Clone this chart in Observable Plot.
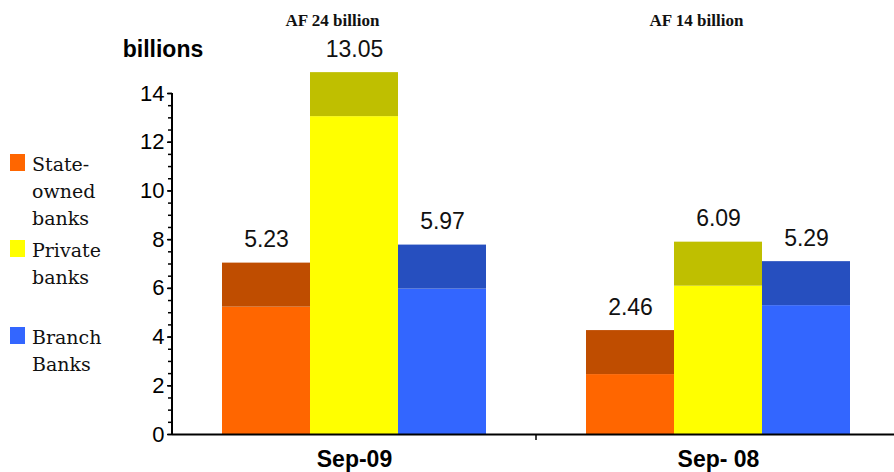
<!DOCTYPE html>
<html>
<head>
<meta charset="utf-8">
<script src="https://cdn.jsdelivr.net/npm/d3@7"></script>
<script src="https://cdn.jsdelivr.net/npm/@observablehq/plot@0.6"></script>
<style>
  html, body { margin: 0; padding: 0; background: #fff; overflow: hidden; }
  #wrap { position: relative; width: 894px; height: 472px; overflow: hidden; }
  #chart { position: absolute; left: 0; top: 0; }
  #ylabel { position: absolute; left: 163px; top: 38px; transform: translateX(-50%);
    font: bold 23px "Liberation Sans", Arial, sans-serif; line-height: 23px; white-space: nowrap; color: #000; }
  .item { position: absolute; left: 10px; font-family: "DejaVu Serif", serif; font-size: 19px; line-height: 27px; color: #111; }
  .sw { position: absolute; left: 0; top: 3px; width: 15px; height: 17px; }
  .lbl { position: absolute; left: 22px; top: 0; white-space: nowrap; }
</style>
</head>
<body>
<div id="wrap">
  <div id="chart"></div>
  <div id="ylabel">billions</div>
  <div id="legend"></div>
</div>
<script>
// ---- data ----
const dates = ["Sep-09", "Sep- 08"];
const types = ["State-owned banks", "Private banks", "Branch Banks"];
const legendLines = [["State-", "owned", "banks"], ["Private", "banks"], ["Branch", "Banks"]];
const valuesSep09 = [5.23, 13.05, 5.97];
const valuesSep08 = [2.46, 6.09, 5.29];
const groupTitles = ["AF 24 billion", "AF 14 billion"];
const frontColors = ["#FF6600", "#FFFF00", "#3366FF"];
const topColors = ["#BF4D00", "#BFBF00", "#264FBF"];
const edgeColors = ["#BF4D00", "#8A8A00", "#1E3C9A"];
const majorTicks = [0, 2, 4, 6, 8, 10, 12, 14];
const minorTicks = d3.range(0, 14.01, 0.5);

const series = [valuesSep09, valuesSep08];
const data = dates.flatMap((date, i) => types.map((type, j) => ({date, type, value: series[i][j]})));
const titles = dates.map((date, i) => ({date, title: groupTitles[i]}));

const sans = "'Liberation Sans', Arial, sans-serif";
const serif = "'Liberation Serif', 'Times New Roman', serif";

const chart = Plot.plot({
  width: 900,
  height: 472,
  marginLeft: 171,
  marginRight: 0,
  marginTop: 93,
  marginBottom: 38,
  style: {fontFamily: sans, color: "#000", background: "transparent", overflow: "visible", maxWidth: "none"},
  fx: {domain: dates, padding: 0, label: null, axis: null},
  x: {domain: types, paddingInner: 0, paddingOuter: 0.55, axis: null},
  y: {domain: [0, 14], axis: null},
  marks: [
    // front face
    Plot.barY(data, {fx: "date", x: "type", y: "value",
      fill: d => frontColors[types.indexOf(d.type)]}),
    // top face (darker), drawn as a band above each value
    Plot.barY(data, {fx: "date", x: "type", y1: "value", y2: "value", insetTop: -44,
      fill: d => topColors[types.indexOf(d.type)]}),
    // thin dark side edge of the private and branch bars
    Plot.barY(data.filter(d => d.type !== types[0]), {fx: "date", x: "type", y: "value", insetTop: -44,
      insetLeft: 88, fill: d => edgeColors[types.indexOf(d.type)]}),
    Plot.ruleY([0], {stroke: "#000", strokeWidth: 2}),
    Plot.text(data, {fx: "date", x: "type", y: "value", text: d => d.value.toFixed(2),
      dy: -60, lineAnchor: "bottom", fontSize: 23, fontFamily: sans, fill: "#111"}),
    Plot.text(titles, {fx: "date", text: "title", frameAnchor: "top", dy: -68, dx: -22,
      lineAnchor: "bottom", fontSize: 17, fontWeight: "bold", fontFamily: serif, fill: "#111"}),
    Plot.axisY({ticks: minorTicks, tickSize: 4, tickFormat: () => "", label: null, strokeWidth: 1.5}),
    Plot.axisY({ticks: majorTicks, tickSize: 5, tickPadding: 3, label: null, fontSize: 22,
      fontFamily: sans, strokeWidth: 1.5}),
    Plot.axisFx({anchor: "bottom", tickSize: 0, tickPadding: 16, label: null, fontSize: 23,
      fontWeight: "bold", fontFamily: sans})
  ]
});
document.getElementById("chart").appendChild(chart);

// axis line and group divider tick, positioned from the plot's own scales
const fx = chart.scale("fx");
const y = chart.scale("y");
const svg = d3.select(chart);
const x0 = fx.apply(dates[0]);
svg.append("line").attr("x1", x0).attr("x2", x0)
  .attr("y1", y.apply(0) + 1).attr("y2", y.apply(14))
  .attr("stroke", "#000").attr("stroke-width", 2);
const xb = fx.apply(dates[1]);
svg.append("line").attr("x1", xb).attr("x2", xb)
  .attr("y1", y.apply(0)).attr("y2", y.apply(0) + 6)
  .attr("stroke", "#000").attr("stroke-width", 1.5);

// legend
const legendTops = [151, 237, 324];
const legend = document.getElementById("legend");
types.forEach((t, i) => {
  const item = document.createElement("div");
  item.className = "item";
  item.style.top = legendTops[i] + "px";
  const sw = document.createElement("div");
  sw.className = "sw";
  sw.style.background = frontColors[i];
  const lbl = document.createElement("div");
  lbl.className = "lbl";
  lbl.innerHTML = legendLines[i].join("<br>");
  item.appendChild(sw);
  item.appendChild(lbl);
  legend.appendChild(item);
});
</script>
</body>
</html>
